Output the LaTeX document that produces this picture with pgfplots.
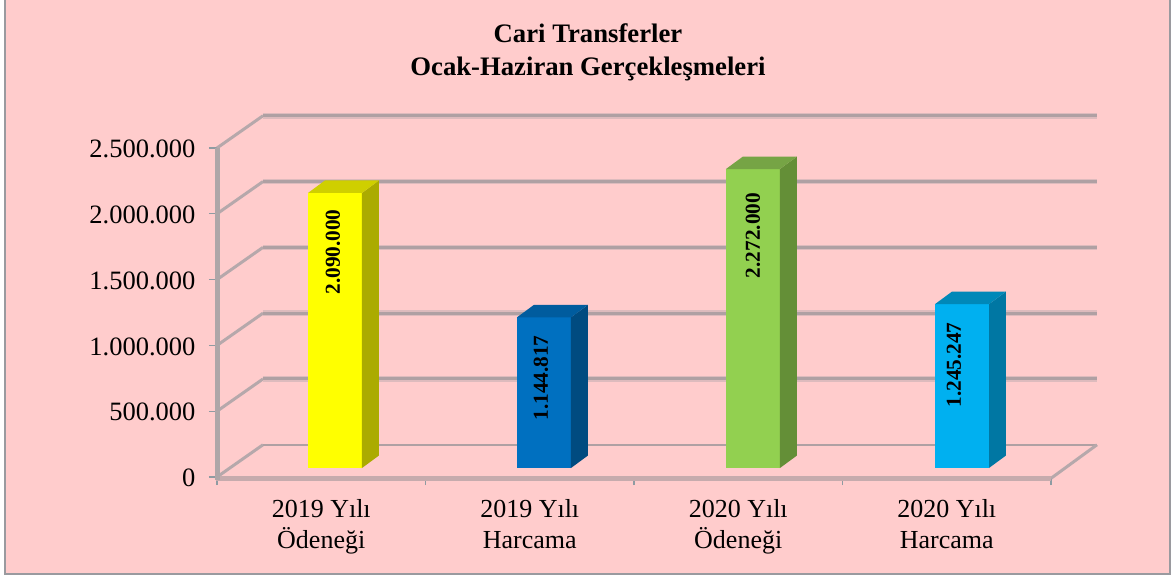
\documentclass[border=0pt]{standalone}
\usepackage{fontspec}
\setmainfont{Liberation Serif}
\usepackage{pgfplots}
\pgfplotsset{compat=1.18}
\definecolor{bgpink}{HTML}{FFCCCC}
\definecolor{framegray}{HTML}{9A9A9F}
\definecolor{gridgray}{HTML}{AFA0A3}
\definecolor{gridsoft}{HTML}{DDBBBD}
\definecolor{diaggray}{HTML}{B6A8AB}
\definecolor{floorgray}{HTML}{C6ABAD}
\definecolor{axisgray}{HTML}{AEA6A8}
\definecolor{tickgray}{HTML}{8E9BA2}
\definecolor{yfront}{HTML}{FFFF00}
\definecolor{yside}{HTML}{ABAB00}
\definecolor{ytop}{HTML}{CFCF00}
\definecolor{bfront}{HTML}{0070C0}
\definecolor{bside}{HTML}{004B80}
\definecolor{btop}{HTML}{005C9E}
\definecolor{gfront}{HTML}{92D050}
\definecolor{gside}{HTML}{648F37}
\definecolor{gtop}{HTML}{76A445}
\definecolor{cfront}{HTML}{00B0F0}
\definecolor{cside}{HTML}{0077A3}
\definecolor{ctop}{HTML}{0088B8}

\begin{document}
\begin{tikzpicture}[x=1pt,y=1pt]
    % page and chart area, picture measured in reference pixels
    \useasboundingbox (0,0) rectangle (1175,579);
    \path[fill=white] (0,0) rectangle (1175,579);
    \path[fill=bgpink] (5,5) rectangle (1170,579);
    \draw[framegray,line width=2.5pt] (5,579) -- (5,5) -- (1170,5) -- (1170,579);
    \begin{axis}[
        at={(217pt,102pt)}, anchor=origin,
        scale only axis, width=834pt, height=329pt,
        xmin=0, xmax=4, ymin=0, ymax=2500000,
        clip=false,
        axis x line*=bottom, axis y line*=left,
        axis line style={draw=none},
        tick align=outside,
        xtick={0.5,1.5,2.5,3.5},
        xticklabels={{2019 Yılı\\Ödeneği},{2019 Yılı\\Harcama},{2020 Yılı\\Ödeneği},{2020 Yılı\\Harcama}},
        minor xtick={0,1,2,3,4},
        ytick={0,500000,1000000,1500000,2000000,2500000},
        scaled y ticks=false,
        major tick length=8pt, minor tick length=8pt,
        major x tick style={draw=none},
        ytick style={draw=tickgray,line width=1.2pt},
        minor x tick style={draw=tickgray,line width=1.2pt},
        yticklabel style={/pgf/number format/fixed,/pgf/number format/1000 sep={.},
            /pgf/number format/assume math mode=true,
            font=\fontsize{26.5}{30}\selectfont, xshift=-10pt, yshift=-1pt},
        xticklabel style={font=\fontsize{26}{31}\selectfont, align=center, yshift=-11pt},
        title={Cari Transferler\\Ocak-Haziran Gerçekleşmeleri},
        title style={at={(0.4448,1.2737)}, anchor=center, align=center,
            font=\bfseries\fontsize{26.7}{33}\selectfont},
        gridb/.style={gridgray,line width=3pt,no marks},
        grids/.style={gridsoft,line width=5.5pt,no marks},
        diag/.style={diaggray,line width=3pt,no marks},
        face/.style={fill=#1,draw=none,no marks},
    ]
    % side wall lines
    \addplot[diag] coordinates {(0,0)(0.2206,245000)};
    \addplot[diag] coordinates {(0,500000)(0.2206,745000)};
    \addplot[diag] coordinates {(0,1000000)(0.2206,1245000)};
    \addplot[diag] coordinates {(0,1500000)(0.2206,1745000)};
    \addplot[diag] coordinates {(0,2000000)(0.2206,2245000)};
    \addplot[diag] coordinates {(0,2500000)(0.2206,2745000)};
    % back wall lines, soft edge first
    \addplot[grids] coordinates {(0.2206,745000)(4.2206,745000)};
    \addplot[grids] coordinates {(0.2206,1245000)(4.2206,1245000)};
    \addplot[grids] coordinates {(0.2206,1745000)(4.2206,1745000)};
    \addplot[grids] coordinates {(0.2206,2245000)(4.2206,2245000)};
    \addplot[grids] coordinates {(0.2206,2745000)(4.2206,2745000)};
    \addplot[gridb,line width=2.2pt] coordinates {(0.2206,245000)(4.2206,245000)};
    \addplot[gridb] coordinates {(0.2206,745000)(4.2206,745000)};
    \addplot[gridb] coordinates {(0.2206,1245000)(4.2206,1245000)};
    \addplot[gridb] coordinates {(0.2206,1745000)(4.2206,1745000)};
    \addplot[gridb] coordinates {(0.2206,2245000)(4.2206,2245000)};
    \addplot[gridb] coordinates {(0.2206,2745000)(4.2206,2745000)};
    % floor and axis
    \addplot[diag] coordinates {(4,-10000)(4.2206,245000)};
    \addplot[floorgray,line width=5pt,no marks] coordinates {(-0.005,-15000)(4,-15000)};
    \addplot[axisgray,line width=5pt,no marks] coordinates {(0,-25000)(0,2500000)};
    % bars: front, side and top faces
    \addplot[face=yfront] coordinates {(0.4365,68400)(0.6954,68400)(0.6954,2158400)(0.4365,2158400)} -- cycle;
    \addplot[face=yside] coordinates {(0.6954,68400)(0.7769,163400)(0.7769,2253400)(0.6954,2158400)} -- cycle;
    \addplot[face=ytop] coordinates {(0.4365,2158400)(0.6954,2158400)(0.7769,2253400)(0.5180,2253400)} -- cycle;

    \addplot[face=bfront] coordinates {(1.4388,68400)(1.6978,68400)(1.6978,1213217)(1.4388,1213217)} -- cycle;
    \addplot[face=bside] coordinates {(1.6978,68400)(1.7793,163400)(1.7793,1308217)(1.6978,1213217)} -- cycle;
    \addplot[face=btop] coordinates {(1.4388,1213217)(1.6978,1213217)(1.7793,1308217)(1.5203,1308217)} -- cycle;

    \addplot[face=gfront] coordinates {(2.4412,68400)(2.7002,68400)(2.7002,2340400)(2.4412,2340400)} -- cycle;
    \addplot[face=gside] coordinates {(2.7002,68400)(2.7817,163400)(2.7817,2435400)(2.7002,2340400)} -- cycle;
    \addplot[face=gtop] coordinates {(2.4412,2340400)(2.7002,2340400)(2.7817,2435400)(2.5227,2435400)} -- cycle;

    \addplot[face=cfront] coordinates {(3.4436,68400)(3.7026,68400)(3.7026,1313647)(3.4436,1313647)} -- cycle;
    \addplot[face=cside] coordinates {(3.7026,68400)(3.7841,163400)(3.7841,1408647)(3.7026,1313647)} -- cycle;
    \addplot[face=ctop] coordinates {(3.4436,1313647)(3.7026,1313647)(3.7841,1408647)(3.5251,1408647)} -- cycle;

    % value labels
    \tikzset{vlab/.style={rotate=90,font=\bfseries\fontsize{21.3}{24}\selectfont,inner sep=0pt}}
    \node[vlab] at (axis cs:0.5564,1709700) {2.090.000};
    \node[vlab] at (axis cs:1.5540,752300) {1.144.817};
    \node[vlab] at (axis cs:2.5707,1835100) {2.272.000};
    \node[vlab] at (axis cs:3.5348,851000) {1.245.247};
    \end{axis}
\end{tikzpicture}
\end{document}
